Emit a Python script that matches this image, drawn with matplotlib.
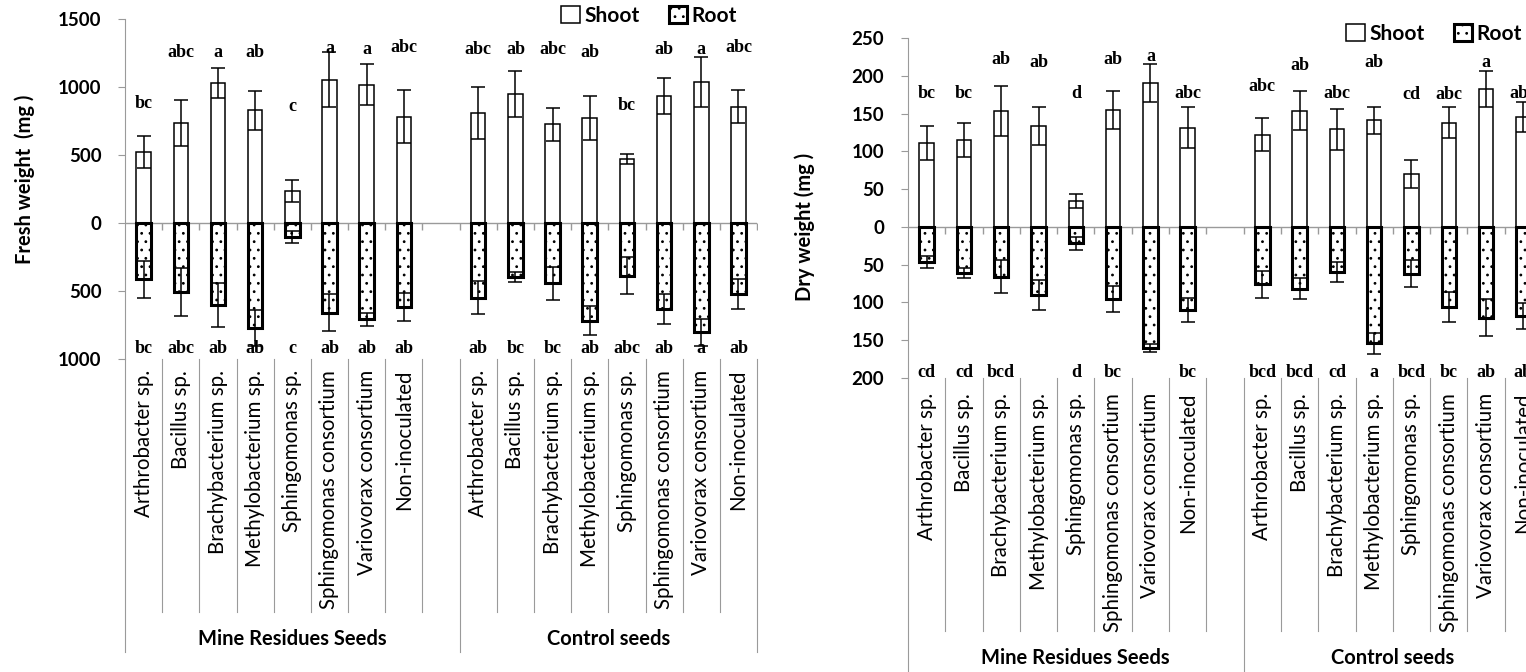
import matplotlib.pyplot as plt
from matplotlib.patches import Patch
from matplotlib.transforms import blended_transform_factory

plt.rcParams["font.family"] = ["Lato", "DejaVu Sans"]
plt.rcParams["hatch.linewidth"] = 0.8

strains = ["Arthrobacter sp.", "Bacillus sp.", "Brachybacterium sp.", "Methylobacterium sp.",
           "Sphingomonas sp.", "Sphingomonas consortium", "Variovorax consortium", "Non-inoculated"]
groups = ["Mine Residues Seeds", "Control seeds"]

# fresh weight (mg): mine residues seeds then control seeds
fresh_shoot = [525, 735, 1027, 829, 235, 1054, 1017, 782,
               809, 951, 725, 772, 471, 932, 1037, 855]
fresh_shoot_err = [118, 170, 110, 142, 81, 200, 149, 196,
                   189, 169, 121, 160, 36, 132, 181, 123]
fresh_root = [414, 507, 605, 772, 105, 659, 708, 615,
              549, 400, 444, 718, 387, 632, 804, 522]
fresh_root_err = [135, 174, 162, 132, 45, 135, 49, 103,
                  123, 36, 122, 106, 135, 113, 100, 110]
fresh_shoot_letters = ["bc", "abc", "a", "ab", "c", "a", "a", "abc",
                       "abc", "ab", "abc", "ab", "bc", "ab", "a", "abc"]
fresh_shoot_letter_y = [882, 1257, 1257, 1257, 853, 1284, 1272, 1287,
                        1272, 1272, 1272, 1257, 860, 1272, 1272, 1287]
fresh_root_letters = ["bc", "abc", "ab", "ab", "c", "ab", "ab", "ab",
                      "ab", "bc", "bc", "ab", "abc", "ab", "a", "ab"]

# dry weight (mg)
dry_shoot = [111, 115, 153, 133, 34, 155, 190, 131,
             122, 154, 129, 141, 70, 138, 182, 145]
dry_shoot_err = [23, 22, 33, 25, 9, 25, 25, 27,
                 22, 26, 27, 18, 18, 20, 24, 20]
dry_root = [46, 61, 66, 90, 22, 95, 160, 110,
            76, 82, 60, 154, 62, 106, 120, 118]
dry_root_err = [8, 7, 22, 20, 9, 17, 5, 16,
                18, 14, 13, 14, 18, 20, 24, 17]
dry_shoot_letters = ["bc", "bc", "ab", "ab", "d", "ab", "a", "abc",
                     "abc", "ab", "abc", "ab", "cd", "abc", "a", "abc"]
dry_shoot_letter_y = [177, 177, 221, 218, 177, 221, 225, 176,
                      186, 214, 177, 217, 175, 175, 217, 177]
dry_root_letters = ["cd", "cd", "bcd", "", "d", "bc", "", "bc",
                    "bcd", "bcd", "cd", "a", "bcd", "bc", "ab", "ab"]

BAR_W = 0.39
GRID_GREY = "#9a9a9a"
XPOS = list(range(8)) + list(range(9, 17))


def draw_panel(ax, shoot, shoot_err, root, root_err, s_letters, s_letter_y,
               r_letters, r_letter_y, ylim, ystep, label_top, group_bottom):
    neg_root = [-v for v in root]
    ax.bar(XPOS, shoot, width=BAR_W, color="white", edgecolor="black",
           linewidth=1.1, zorder=3)
    ax.bar(XPOS, neg_root, width=BAR_W, color="white", edgecolor="black",
           hatch="..", linewidth=2.2, zorder=3)
    ax.errorbar(XPOS, shoot, yerr=shoot_err, fmt="none", ecolor="black",
                elinewidth=1.1, capsize=5, capthick=1.1, zorder=4)
    ax.errorbar(XPOS, neg_root, yerr=root_err, fmt="none", ecolor="black",
                elinewidth=1.1, capsize=5, capthick=1.1, zorder=4)

    for xi, lab, ly in zip(XPOS, s_letters, s_letter_y):
        ax.text(xi, ly, lab, ha="center", va="center", family="Liberation Serif",
                weight="bold", fontsize=13)
    for xi, lab in zip(XPOS, r_letters):
        ax.text(xi, r_letter_y, lab, ha="center", va="center", family="Liberation Serif",
                weight="bold", fontsize=13)

    ax.set_xlim(-0.5, 16.5)
    ax.set_ylim(*ylim)
    ticks = list(range(ylim[0], ylim[1] + 1, ystep))
    ax.set_yticks(ticks)
    ax.set_yticklabels([str(abs(t)) for t in ticks], fontsize=13.5, fontweight="bold")
    ax.set_xticks([])
    for side in ["top", "right", "bottom"]:
        ax.spines[side].set_visible(False)
    ax.spines["left"].set_color(GRID_GREY)
    ax.tick_params(axis="y", direction="out", length=5, color=GRID_GREY, pad=12)

    # category axis sits on zero
    ax.axhline(0, color=GRID_GREY, lw=1, zorder=2)
    bounds = [b - 0.5 for b in range(1, 18)]
    ax.plot(bounds, [0] * len(bounds), ls="none", marker=3, ms=5,
            color=GRID_GREY, zorder=2)

    # category labels below the plot
    trans = blended_transform_factory(ax.transData, ax.transAxes)
    for xi, name in zip(XPOS, strains + strains):
        ax.text(xi, label_top, name, rotation=90, ha="center", va="top",
                fontsize=14.8, transform=trans)
    for b in [k + 0.5 for k in range(0, 8)] + [k + 0.5 for k in range(9, 16)]:
        ax.plot([b, b], [0, -0.744], color=GRID_GREY, lw=0.8,
                transform=trans, clip_on=False)
    for b in [-0.5, 8.5, 16.5]:
        ax.plot([b, b], [0, group_bottom], color=GRID_GREY, lw=0.8,
                transform=trans, clip_on=False)
    ax.text(4.0, -0.824, groups[0], ha="center", va="center", fontsize=14.5,
            fontweight="bold", transform=trans)
    ax.text(12.5, -0.824, groups[1], ha="center", va="center", fontsize=14.5,
            fontweight="bold", transform=trans)


fig = plt.figure(figsize=(15.26, 6.72), dpi=100)
ax1 = fig.add_axes([0.0819, 0.4658, 0.4142, 0.506])
ax2 = fig.add_axes([0.595, 0.4375, 0.4155, 0.506])

draw_panel(ax1, fresh_shoot, fresh_shoot_err, fresh_root, fresh_root_err,
           fresh_shoot_letters, fresh_shoot_letter_y, fresh_root_letters, -925,
           (-1000, 1500), 500, -0.032, -0.862)
draw_panel(ax2, dry_shoot, dry_shoot_err, dry_root, dry_root_err,
           dry_shoot_letters, dry_shoot_letter_y, dry_root_letters, -193,
           (-200, 250), 50, -0.044, -0.9)

fig.text(25 / 1526, 1 - 179 / 672, "Fresh weight  (mg )", rotation=90,
         ha="center", va="center", fontsize=14.5, fontweight="bold")
fig.text(805 / 1526, 1 - 227 / 672, "Dry weight (mg )", rotation=90,
         ha="center", va="center", fontsize=14.5, fontweight="bold")

handles = [Patch(facecolor="white", edgecolor="black", linewidth=1.1, label="Shoot"),
           Patch(facecolor="white", edgecolor="black", hatch="..", linewidth=2.2, label="Root")]
for ax, anchor in [(ax1, (737 / 1526, 1 - 6 / 672)), (ax2, (1522 / 1526, 1 - 24 / 672))]:
    ax.legend(handles=handles, loc="upper right", bbox_to_anchor=anchor,
              bbox_transform=fig.transFigure, ncol=2, frameon=False,
              handlelength=0.9, handleheight=0.9, handletextpad=0.2,
              columnspacing=1.4, borderaxespad=0, borderpad=0,
              prop={"weight": "bold", "size": 15})

fig.savefig("out.png", dpi=100)
